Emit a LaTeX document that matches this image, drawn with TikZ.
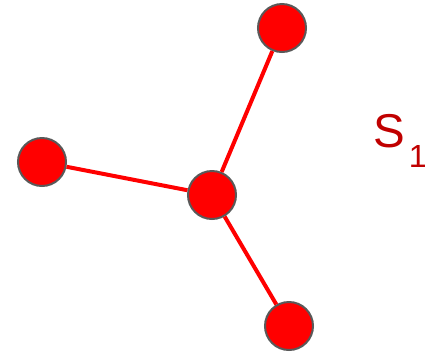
\documentclass[tikz,border=0pt]{standalone}
\usepackage{fontspec}
\setmainfont{Liberation Sans}
\usepackage{xcolor}
\usepackage{tikz}
\usetikzlibrary{positioning}
\definecolor{atomc}{HTML}{FF0000}
\definecolor{rimc}{HTML}{595959}
\definecolor{labc}{HTML}{C00000}
\tikzset{
  atom/.style={circle,fill=atomc,draw=rimc,line width=1.5pt,minimum size=36pt,inner sep=0pt},
  bond/.style={atomc,line width=3pt}
}

\begin{document}
\begin{tikzpicture}[x=0.75pt,y=-0.75pt]
\useasboundingbox (0,0) rectangle (443,358);
\node[atom] (c) at (212,195) {};
\node[atom] (t) at (282,28) {};
\node[atom] (l) at (42,162) {};
\node[atom] (b) at (289,326) {};
\draw[bond] (c) -- (t);
\draw[bond] (c) -- (l);
\draw[bond] (c) -- (b);
\node[anchor=base west,inner sep=0pt,text=labc,font=\fontsize{35.6}{36}\selectfont] (s1) at (373,147)
  {S\kern3pt\raisebox{-15pt}{\fontsize{24}{24}\selectfont 1}};
\end{tikzpicture}
\end{document}
